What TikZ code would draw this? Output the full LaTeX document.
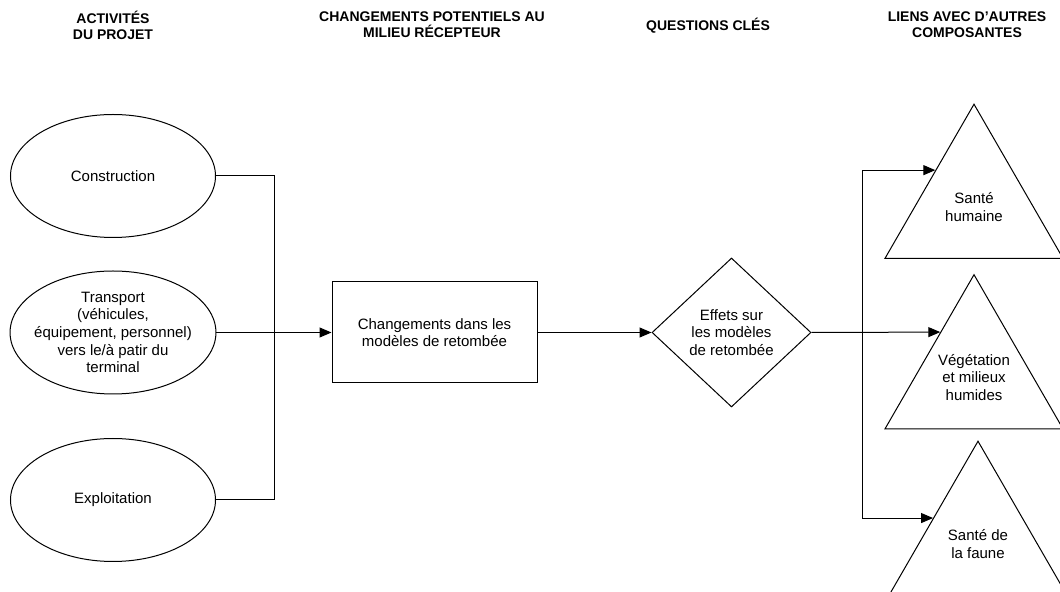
\documentclass[tikz,border=0pt]{standalone}
\usepackage{fontspec}
\setmainfont{Liberation Sans}
\usepackage{tikz}
\usetikzlibrary{arrows.meta, calc, shapes.geometric}

\begin{document}
\begin{tikzpicture}[x=0.5pt, y=-0.5pt, line width=0.5pt,
  txt/.style={font=\fontsize{7.5pt}{8.85pt}\selectfont, align=center},
  head/.style={font=\fontsize{7pt}{8pt}\selectfont\bfseries, align=center},
  activity/.style={txt, draw, ellipse, inner sep=-3pt, minimum width=102.5pt, minimum height=61.5pt},
  change/.style={txt, draw, rectangle, minimum width=102.5pt, minimum height=50.5pt},
  question/.style={txt, draw, diamond, inner sep=0pt, minimum width=79.5pt, minimum height=74.5pt},
  link/.style={txt, draw, regular polygon, regular polygon sides=3, inner sep=0pt, minimum size=102.8pt},
  arr/.style={-{Triangle[length=6pt, width=5pt]}}]
\useasboundingbox (0,0) rectangle (1060,592);
\clip (0,0) rectangle (1060,592);

% column titles
\node[head] (h1) at (113,25) {ACTIVITÉS\\DU PROJET};
\node[head] (h2) at (432,25) {CHANGEMENTS POTENTIELS AU\\MILIEU RÉCEPTEUR};
\node[head] (h3) at (708,26) {QUESTIONS CLÉS};
\node[head] (h4) at (967,25) {LIENS AVEC D’AUTRES\\COMPOSANTES};

% project activities
\node[activity] (cons) at (113,176) {Construction};
\node[activity] (trans) at (113,332.5) {Transport\\(véhicules,\\équipement, personnel)\\vers le/à patir du\\terminal};
\node[activity] (expl) at (113,500) {Exploitation};

% change and key question
\node[change] (chg) at (434.5,332.5) {Changements dans les\\modèles de retombée};
\node[question] (eff) at (731.5,332.5) {Effets sur\\les modèles\\de retombée};

% other components
\node[link] (t1) at (974,207) {Santé\\humaine};
\node[link] (t2) at (974,377.5) {Végétation\\et milieux\\humides};
\node[link] (t3) at (978,544) {Santé de\\la faune};

\coordinate (jn) at ($(trans.east)+(58,0)$);
\coordinate (sp) at ($(eff.east)+(51,0)$);
\coordinate (in1) at ($(t1.corner 1)!0.43!(t1.corner 2)$);
\coordinate (in2) at ($(t2.corner 1)!0.375!(t2.corner 2)$);
\coordinate (in3) at ($(t3.corner 1)!0.5!(t3.corner 2)$);

\draw (cons.east) -| (jn);
\draw (expl.east) -| (jn);
\draw[arr] (trans.east) -- (chg.west);
\draw[arr] (chg.east) -- (eff.west);
\draw[arr] (eff.east) -- (in2);
\draw[arr] (sp) |- (in1);
\draw[arr] (sp) |- (in3);
\end{tikzpicture}
\end{document}
